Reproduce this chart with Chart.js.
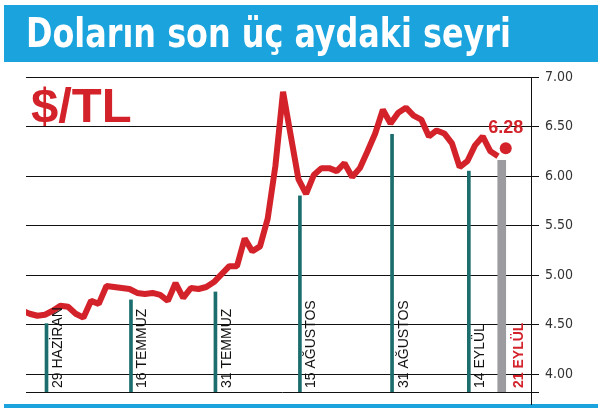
<!DOCTYPE html>
<html><head><meta charset="utf-8">
<script src="https://cdn.jsdelivr.net/npm/chart.js@4"></script>
<style>html,body{margin:0;padding:0;background:#fff}canvas{display:block}</style>
</head><body>
<canvas id="c" width="601" height="411"></canvas>
<script>
// ---- data ----
const dates = ["26 Haz","27 Haz","28 Haz","29 Haz",
 "2 Tem","3 Tem","4 Tem","5 Tem","6 Tem","9 Tem","10 Tem","11 Tem","12 Tem","13 Tem","16 Tem","17 Tem","18 Tem","19 Tem","20 Tem","23 Tem","24 Tem","25 Tem","26 Tem","27 Tem","30 Tem","31 Tem",
 "1 Ağu","2 Ağu","3 Ağu","6 Ağu","7 Ağu","8 Ağu","9 Ağu","10 Ağu","13 Ağu","14 Ağu","15 Ağu","16 Ağu","17 Ağu","20 Ağu","21 Ağu","22 Ağu","23 Ağu","24 Ağu","27 Ağu","28 Ağu","29 Ağu","30 Ağu","31 Ağu",
 "3 Eyl","4 Eyl","5 Eyl","6 Eyl","7 Eyl","10 Eyl","11 Eyl","12 Eyl","13 Eyl","14 Eyl","17 Eyl","18 Eyl","19 Eyl","20 Eyl","21 Eyl"];
const usdTry = [4.64,4.61,4.59,4.60,4.64,4.69,4.68,4.61,4.57,4.74,4.71,4.89,4.88,4.87,4.86,4.82,4.81,4.82,4.80,4.74,4.92,4.77,4.87,4.86,4.88,4.93,
 5.01,5.09,5.09,5.37,5.24,5.29,5.57,6.10,6.85,6.41,5.97,5.82,6.01,6.08,6.08,6.05,6.13,5.99,6.08,6.25,6.43,6.67,6.53,
 6.64,6.69,6.61,6.57,6.40,6.46,6.43,6.33,6.09,6.15,6.31,6.40,6.25,6.20];
const lastDate = "21 Eyl";
const lastValue = 6.28;
const markerDates = ["29 Haz","16 Tem","31 Tem","15 Ağu","31 Ağu","14 Eyl"];
const markerLabels = ["29 HAZİRAN","16 TEMMUZ","31 TEMMUZ","15 AĞUSTOS","31 AĞUSTOS","14 EYLÜL"];
const markerHeights = [4.51,4.75,4.83,5.80,6.42,6.05];
const lastBarHeight = 6.16;
const lastLabel = "21 EYLÜL";
const yTicks = [4.0,4.5,5.0,5.5,6.0,6.5,7.0];
const yMin = 3.82, yMax = 7.0;
const titleText = "Doların son üç aydaki seyri";
const unitText = "$/TL";

// ---- styles ----
const RED = '#d3222a', TEAL = '#1c6e6e', GRAY = '#9c9ca0', BLUE = '#1ba3dd';

const linePts = usdTry.map((v,i)=>({x:i,y:v}));
const lastIdx = dates.indexOf(lastDate);
const markerPts = markerDates.map((d,i)=>({x:dates.indexOf(d), y:[yMin, markerHeights[i]]}));

const deco = {
  id:'deco',
  beforeDraw(chart){
    const ctx = chart.ctx;
    ctx.save();
    ctx.fillStyle = '#fff'; ctx.fillRect(0,0,chart.width,chart.height);
    ctx.fillStyle = BLUE;
    ctx.fillRect(4,5,594,57);
    ctx.fillRect(4,404,594,4);
    ctx.fillStyle = '#fff';
    ctx.font = 'bold 40px "DejaVu Sans Condensed", "Liberation Sans", sans-serif';
    ctx.textBaseline = 'alphabetic';
    ctx.fillText(titleText, 26, 47, 485);
    ctx.restore();
  },
  afterDatasetsDraw(chart){
    const ctx = chart.ctx, ca = chart.chartArea;
    const xs = chart.scales.x, ys = chart.scales.y;
    ctx.save();
    // bottom line & axis extension
    ctx.strokeStyle = '#111'; ctx.lineWidth = 1;
    ctx.beginPath();
    ctx.moveTo(ca.left, Math.round(ca.bottom)+0.5); ctx.lineTo(ca.right+8, Math.round(ca.bottom)+0.5);
    ctx.moveTo(Math.round(ca.right)+0.5, ca.bottom); ctx.lineTo(Math.round(ca.right)+0.5, 405);
    ctx.stroke();
    // unit text
    ctx.fillStyle = RED;
    ctx.font = 'bold 49px "Liberation Sans", Arial, sans-serif';
    ctx.fillText(unitText, 31, 122, 102);
    // rotated marker labels
    const drawRot = (txt, x, color, bold) => {
      ctx.save();
      ctx.translate(x, ca.bottom - 4);
      ctx.rotate(-Math.PI/2);
      ctx.fillStyle = color;
      ctx.font = (bold?'bold ':'') + '14px "Liberation Sans Narrow", "Arial Narrow", sans-serif';
      ctx.textAlign = 'left'; ctx.textBaseline = 'alphabetic';
      ctx.fillText(txt, 0, 0);
      ctx.restore();
    };
    markerPts.forEach((p,i)=>{
      drawRot(markerLabels[i], xs.getPixelForValue(p.x) + 17, '#111', false);
    });
    drawRot(lastLabel, xs.getPixelForValue(lastIdx) + 17, RED, true);
    // last value label
    ctx.fillStyle = RED;
    ctx.font = 'bold 18px "Liberation Sans", Arial, sans-serif';
    ctx.textAlign = 'center';
    ctx.fillText(lastValue.toFixed(2), xs.getPixelForValue(lastIdx), ys.getPixelForValue(lastValue) - 15);
    ctx.restore();
  }
};

new Chart(document.getElementById('c'), {
  type:'line',
  data:{
    datasets:[
      {type:'bar', data:markerPts, backgroundColor:TEAL, barThickness:3, order:3},
      {type:'bar', data:[{x:lastIdx, y:[yMin,lastBarHeight]}], backgroundColor:GRAY, barThickness:8, order:2},
      {type:'line', data:linePts, borderColor:RED, borderWidth:6, pointRadius:0, tension:0, borderJoinStyle:'bevel', borderCapStyle:'butt', order:1},
      {type:'line', data:[{x:lastIdx,y:lastValue}], showLine:false, pointRadius:6, pointBackgroundColor:RED, pointBorderWidth:0, order:0}
    ]
  },
  options:{
    responsive:false, animation:false, devicePixelRatio:1,
    layout:{padding:{left:26, right:0, top:77, bottom:19}},
    plugins:{legend:{display:false}, tooltip:{enabled:false}},
    scales:{
      x:{type:'linear', display:false, min:0.525, max:66.29, offset:false},
      y:{
        position:'right', min:yMin, max:yMax,
        afterBuildTicks(s){ s.ticks = yTicks.map(v=>({value:v})); },
        afterFit(s){ s.width = 70; },
        grid:{color:'#111', lineWidth:1, tickLength:8, drawTicks:true},
        border:{display:true, color:'#111', width:1},
        ticks:{padding:6, color:'#333', font:{family:'"DejaVu Sans Condensed", "DejaVu Sans", sans-serif', size:14}, callback:v=>Number(v).toFixed(2)}
      }
    }
  },
  plugins:[deco]
});
</script>
</body></html>
